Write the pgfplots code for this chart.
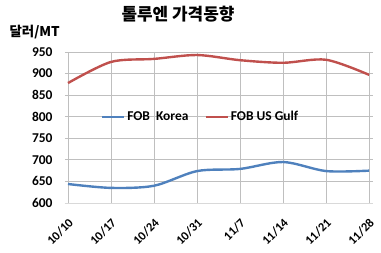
\documentclass[border=0pt]{standalone}
\usepackage{fontspec}
\setmainfont{Carlito}
\newfontfamily\kr{Noto Sans CJK KR}
\usepackage{pgfplots}
\pgfplotsset{compat=1.18}
\definecolor{kblue}{HTML}{4F81BD}
\definecolor{kred}{HTML}{C0504D}
\definecolor{grid}{HTML}{D9D9D9}
\begin{document}
\begin{tikzpicture}[x=1bp,y=1bp]
\useasboundingbox (-65,-50) rectangle (316,203);
\begin{axis}[
  at={(0,0)}, anchor=south west,
  scale only axis, width=308bp, height=151bp,
  xmin=-0.07, xmax=7.09, ymin=600, ymax=950,
  xtick={0,...,7},
  xticklabels={10/10,10/17,10/24,10/31,11/7,11/14,11/21,11/28},
  ytick={600,650,...,950},
  xmajorgrids, grid style={grid, line width=0.8pt},
  major tick length=0pt,
  axis y line*=left, axis x line*=bottom,
  y axis line style={draw=none},
  x axis line style={draw=grid, line width=0.8pt},
  tick label style={font=\fontsize{13.5}{14}\selectfont\bfseries},
  /pgf/number format/assume math mode=true,
  yticklabel style={xshift=-9bp},
  xticklabel style={font=\fontsize{12.5}{13}\selectfont\bfseries, xshift=3bp, yshift=-18bp, rotate=45, anchor=east, inner sep=0pt},
  legend style={draw=none, fill=none, at={(0.44,0.57)}, anchor=center,
    font=\fontsize{13.5}{14}\selectfont\bfseries,
    /tikz/every even column/.append style={column sep=14bp}},
  legend columns=2,
  legend image code/.code={\draw[#1, line width=2.4pt] (0,0) -- (22bp,0);},
  clip=false,
]
\addplot[kblue, line width=2.4pt, smooth, tension=0.5] coordinates {
(0,644) (1,635) (2,640) (3,674) (4,679) (5,695) (6,674) (7,675)};
\addlegendentry{FOB\ \ Korea}
\addplot[kred, line width=2.4pt, smooth, tension=0.5] coordinates {
(0,878) (1,927) (2,934) (3,943) (4,931) (5,925) (6,932) (7,897)};
\addlegendentry{FOB US Gulf}
\end{axis}
\node[font=\kr\bfseries\fontsize{17}{19}\selectfont] at (113,189) {톨루엔 가격동향};
\node[font=\kr\bfseries\fontsize{13.5}{14}\selectfont, anchor=west] at (-59,171) {달러/MT};
\end{tikzpicture}
\end{document}
